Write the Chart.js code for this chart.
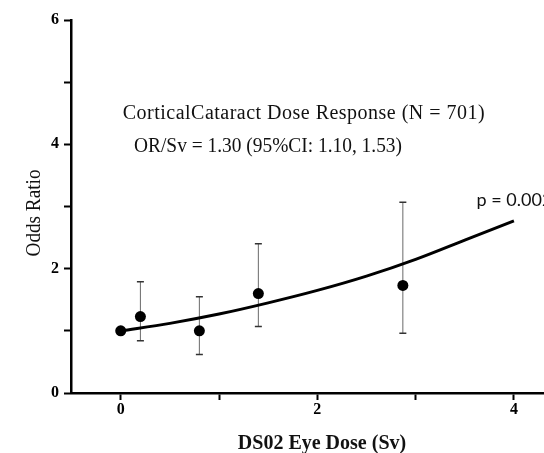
<!DOCTYPE html>
<html>
<head>
<meta charset="utf-8">
<script src="https://cdn.jsdelivr.net/npm/chart.js@4.4.1/dist/chart.umd.min.js"></script>
<style>
    html, body { margin: 0; padding: 0; background: #fff; }
    #wrap { width: 544px; height: 453px; }
</style>
</head>
<body>
<div id="wrap"><canvas id="doseChart" width="544" height="453"></canvas></div>
<script>
// ======================================
// DATA
// ======================================
const doseSv   = [0, 0.2, 0.8, 1.4, 2.87];
const oddsRat  = [1.0, 1.23, 1.0, 1.6, 1.73];
const ciLow    = [null, 0.84, 0.62, 1.07, 0.96];
const ciHigh   = [null, 1.79, 1.55, 2.4, 3.07];

const fitDose  = [0, 0.5, 1, 1.5, 2, 2.5, 3, 3.5, 4];
const fitOR    = [1.0, 1.12, 1.27, 1.45, 1.65, 1.88, 2.15, 2.46, 2.77];

const xTicks   = [0, 1, 2, 3, 4];
const yTicks   = [0, 1, 2, 3, 4, 5, 6];

const titleLine1 = "CorticalCataract Dose Response (N = 701)";
const titleLine2 = "OR/Sv = 1.30 (95%CI: 1.10, 1.53)";
const pText      = "p = 0.002";

// ======================================
// HELPERS
// ======================================
// draws text stretched / squeezed to a target width (scan looks spaced out)
function fitText(ctx, text, x, y, width) {
    ctx.letterSpacing = "0px";
    const w = ctx.measureText(text).width;
    if (w < width) {
        ctx.letterSpacing = ((width - w) / (text.length - 1)).toFixed(2) + "px";
        ctx.fillText(text, x, y);
    } else {
        ctx.fillText(text, x, y, width);
    }
    ctx.letterSpacing = "0px";
}

// ======================================
// PLUGINS
// ======================================
const errorBars = {
    id: "errorBars",
    beforeDatasetsDraw(chart) {
        const { ctx, scales: { x, y } } = chart;
        ctx.save();
        doseSv.forEach((d, i) => {
            if (ciLow[i] === null) return;
            const px = x.getPixelForValue(d);
            const top = y.getPixelForValue(ciHigh[i]);
            const bot = y.getPixelForValue(ciLow[i]);
            ctx.strokeStyle = "#6a6a6a";
            ctx.lineWidth = 1;
            ctx.beginPath();
            ctx.moveTo(px, top);
            ctx.lineTo(px, bot);
            ctx.stroke();
            ctx.strokeStyle = "#333";
            ctx.lineWidth = 1.5;
            ctx.beginPath();
            ctx.moveTo(px - 3.5, top); ctx.lineTo(px + 3.5, top);
            ctx.moveTo(px - 3.5, bot); ctx.lineTo(px + 3.5, bot);
            ctx.stroke();
        });
        ctx.restore();
    }
};

const labels = {
    id: "labels",
    afterDraw(chart) {
        const { ctx, scales: { x, y } } = chart;
        ctx.save();
        ctx.fillStyle = "#111";
        ctx.textAlign = "left";
        ctx.textBaseline = "alphabetic";

        // annotation block
        ctx.font = "20px 'Liberation Serif'";
        fitText(ctx, titleLine1, x.getPixelForValue(0.02), y.getPixelForValue(4.4), 362);
        fitText(ctx, titleLine2, x.getPixelForValue(0.135), y.getPixelForValue(3.88), 268);

        ctx.font = "18px Lato";
        ctx.textBaseline = "middle";
        ctx.fillText(pText, x.getPixelForValue(3.62), y.getPixelForValue(3.1));

        // axis titles
        ctx.font = "bold 20px 'Liberation Serif'";
        ctx.textAlign = "center";
        ctx.textBaseline = "alphabetic";
        ctx.fillText("DS02 Eye Dose (Sv)", 322, 449, 171);

        ctx.font = "20px 'Liberation Serif'";
        ctx.translate(40, 213);
        ctx.rotate(-Math.PI / 2);
        ctx.fillText("Odds Ratio", 0, 0, 87);
        ctx.restore();
    }
};

// ======================================
// CHART INIT
// ======================================
const tickFont = { family: "'Liberation Serif'", size: 16, weight: "bold" };
const axisGrid = { drawOnChartArea: false, drawTicks: true, tickLength: 7, tickWidth: 2, tickColor: "#000" };

new Chart(document.getElementById("doseChart"), {
    type: "scatter",
    data: {
        datasets: [
            {
                data: doseSv.map((d, i) => ({ x: d, y: oddsRat[i] })),
                backgroundColor: "#000",
                borderWidth: 0,
                pointRadius: 5.5,
                order: 0
            },
            {
                data: fitDose.map((d, i) => ({ x: d, y: fitOR[i] })),
                showLine: true,
                borderColor: "#000",
                borderWidth: 3,
                tension: 0.4,
                cubicInterpolationMode: "monotone",
                pointRadius: 0,
                order: 1
            }
        ]
    },
    options: {
        responsive: false,
        animation: false,
        layout: { autoPadding: false, padding: { top: 20, left: 0, right: 0, bottom: 0 } },
        plugins: { legend: { display: false }, tooltip: { enabled: false } },
        scales: {
            x: {
                type: "linear",
                min: -0.506,
                max: 4.306,
                afterFit(scale) { scale.height = 60; },
                afterBuildTicks(scale) { scale.ticks = xTicks.map(v => ({ value: v })); },
                border: { color: "#000", width: 2.5 },
                grid: axisGrid,
                ticks: {
                    font: tickFont,
                    color: "#000",
                    padding: 0,
                    callback: (v) => (v % 2 === 0 ? v : "")
                }
            },
            y: {
                min: 0,
                max: 6,
                afterFit(scale) { scale.width = 71; },
                afterBuildTicks(scale) { scale.ticks = yTicks.map(v => ({ value: v })); },
                border: { color: "#000", width: 2.5 },
                grid: axisGrid,
                ticks: {
                    font: tickFont,
                    color: "#000",
                    padding: 5,
                    callback: (v) => (v % 2 === 0 ? v : "")
                }
            }
        }
    },
    plugins: [errorBars, labels]
});
</script>
</body>
</html>
